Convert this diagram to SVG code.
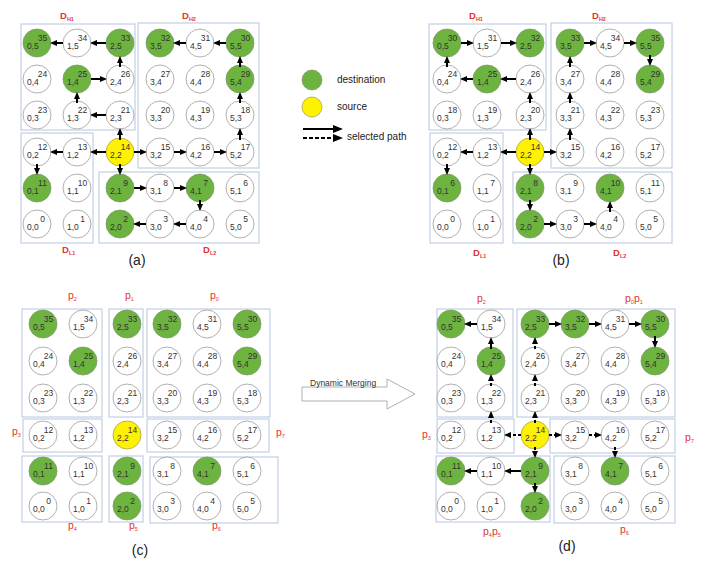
<svg xmlns="http://www.w3.org/2000/svg" width="706" height="571" viewBox="0 0 706 571">
<defs>
<style>
text{font-family:'Liberation Sans',Arial,sans-serif}
.n circle{fill:#fff;stroke:#9c9c9c;stroke-width:.8}
.n.g circle{fill:#6db33f;stroke:#7f9a6c}
.n.y circle{fill:#fff200;stroke:#aaa24e}
.n text{font-size:8.5px;fill:#333}
.n .k{text-anchor:middle}
.box{fill:none;stroke:#b4c6de;stroke-width:1}
.lb{fill:#e3342f;font-size:9.5px;font-weight:bold}
.pl{fill:#e3342f;font-size:10.5px}
.sb{font-size:5.5px}
.cap{font-size:14px;fill:#222;text-anchor:middle}
.lg{font-size:10px;fill:#222}
.ar{stroke:#000;stroke-width:2;fill:none;marker-end:url(#ah)}
.ds{stroke-dasharray:3 2}
.al{stroke:#000;stroke-width:2;fill:none;marker-end:url(#ahL)}
</style>
<marker id="ah" markerUnits="userSpaceOnUse" markerWidth="7" markerHeight="6" refX="1" refY="3" orient="auto"><path d="M0,0 L7,3 L0,6 z" fill="#000"/></marker>
<marker id="ahL" markerUnits="userSpaceOnUse" markerWidth="10" markerHeight="8" refX="1" refY="4" orient="auto"><path d="M0,0 L10,4 L0,8 z" fill="#000"/></marker>
</defs>
<rect width="706" height="571" fill="#fff"/>

<!-- ===== Panel (a) ===== -->
<g id="a-boxes">
<rect class="box" x="21" y="24" width="114" height="106"/>
<rect class="box" x="138" y="23" width="121" height="145"/>
<rect class="box" x="21" y="133" width="72" height="110"/>
<rect class="box" x="99" y="172" width="160" height="71"/>
<text class="lb" x="60" y="19">D<tspan class="sb" dy="2">H1</tspan></text>
<text class="lb" x="182" y="19">D<tspan class="sb" dy="2">H2</tspan></text>
<text class="lb" x="62" y="253">D<tspan class="sb" dy="2">L1</tspan></text>
<text class="lb" x="203" y="253">D<tspan class="sb" dy="2">L2</tspan></text>
<text class="cap" x="137" y="265">(a)</text>
</g>
<g id="a35" class="n g" transform="translate(37,43)"><circle r="14"/><text class="k" x="5.5" y="-2">35</text><text x="-10" y="6">0,5</text></g>
<g id="a34" class="n" transform="translate(77,43)"><circle r="14"/><text class="k" x="5.5" y="-2">34</text><text x="-10" y="6">1,5</text></g>
<g id="a33" class="n g" transform="translate(120,43)"><circle r="14"/><text class="k" x="5.5" y="-2">33</text><text x="-10" y="6">2,5</text></g>
<g id="a32" class="n g" transform="translate(160,43)"><circle r="14"/><text class="k" x="5.5" y="-2">32</text><text x="-10" y="6">3,5</text></g>
<g id="a31" class="n" transform="translate(200,43)"><circle r="14"/><text class="k" x="5.5" y="-2">31</text><text x="-10" y="6">4,5</text></g>
<g id="a30" class="n g" transform="translate(240,43)"><circle r="14"/><text class="k" x="5.5" y="-2">30</text><text x="-10" y="6">5,5</text></g>
<g id="a24" class="n" transform="translate(37,79)"><circle r="14"/><text class="k" x="5.5" y="-2">24</text><text x="-10" y="6">0,4</text></g>
<g id="a25" class="n g" transform="translate(77,79)"><circle r="14"/><text class="k" x="5.5" y="-2">25</text><text x="-10" y="6">1,4</text></g>
<g id="a26" class="n" transform="translate(120,79)"><circle r="14"/><text class="k" x="5.5" y="-2">26</text><text x="-10" y="6">2,4</text></g>
<g id="a27" class="n" transform="translate(160,79)"><circle r="14"/><text class="k" x="5.5" y="-2">27</text><text x="-10" y="6">3,4</text></g>
<g id="a28" class="n" transform="translate(200,79)"><circle r="14"/><text class="k" x="5.5" y="-2">28</text><text x="-10" y="6">4,4</text></g>
<g id="a29" class="n g" transform="translate(240,79)"><circle r="14"/><text class="k" x="5.5" y="-2">29</text><text x="-10" y="6">5,4</text></g>
<g id="a23" class="n" transform="translate(37,115)"><circle r="14"/><text class="k" x="5.5" y="-2">23</text><text x="-10" y="6">0,3</text></g>
<g id="a22" class="n" transform="translate(77,115)"><circle r="14"/><text class="k" x="5.5" y="-2">22</text><text x="-10" y="6">1,3</text></g>
<g id="a21" class="n" transform="translate(120,115)"><circle r="14"/><text class="k" x="5.5" y="-2">21</text><text x="-10" y="6">2,3</text></g>
<g id="a20" class="n" transform="translate(160,115)"><circle r="14"/><text class="k" x="5.5" y="-2">20</text><text x="-10" y="6">3,3</text></g>
<g id="a19" class="n" transform="translate(200,115)"><circle r="14"/><text class="k" x="5.5" y="-2">19</text><text x="-10" y="6">4,3</text></g>
<g id="a18" class="n" transform="translate(240,115)"><circle r="14"/><text class="k" x="5.5" y="-2">18</text><text x="-10" y="6">5,3</text></g>
<g id="a12" class="n" transform="translate(37,152)"><circle r="14"/><text class="k" x="5.5" y="-2">12</text><text x="-10" y="6">0,2</text></g>
<g id="a13" class="n" transform="translate(77,152)"><circle r="14"/><text class="k" x="5.5" y="-2">13</text><text x="-10" y="6">1,2</text></g>
<g id="a14" class="n y" transform="translate(120,152)"><circle r="14"/><text class="k" x="5.5" y="-2">14</text><text x="-10" y="6">2,2</text></g>
<g id="a15" class="n" transform="translate(160,152)"><circle r="14"/><text class="k" x="5.5" y="-2">15</text><text x="-10" y="6">3,2</text></g>
<g id="a16" class="n" transform="translate(200,152)"><circle r="14"/><text class="k" x="5.5" y="-2">16</text><text x="-10" y="6">4,2</text></g>
<g id="a17" class="n" transform="translate(240,152)"><circle r="14"/><text class="k" x="5.5" y="-2">17</text><text x="-10" y="6">5,2</text></g>
<g id="a11" class="n g" transform="translate(37,188)"><circle r="14"/><text class="k" x="5.5" y="-2">11</text><text x="-10" y="6">0,1</text></g>
<g id="a10" class="n" transform="translate(77,188)"><circle r="14"/><text class="k" x="5.5" y="-2">10</text><text x="-10" y="6">1,1</text></g>
<g id="a9" class="n g" transform="translate(120,188)"><circle r="14"/><text class="k" x="5.5" y="-2">9</text><text x="-10" y="6">2,1</text></g>
<g id="a8" class="n" transform="translate(160,188)"><circle r="14"/><text class="k" x="5.5" y="-2">8</text><text x="-10" y="6">3,1</text></g>
<g id="a7" class="n g" transform="translate(200,188)"><circle r="14"/><text class="k" x="5.5" y="-2">7</text><text x="-10" y="6">4,1</text></g>
<g id="a6" class="n" transform="translate(240,188)"><circle r="14"/><text class="k" x="5.5" y="-2">6</text><text x="-10" y="6">5,1</text></g>
<g id="a0" class="n" transform="translate(37,224)"><circle r="14"/><text class="k" x="5.5" y="-2">0</text><text x="-10" y="6">0,0</text></g>
<g id="a1" class="n" transform="translate(77,224)"><circle r="14"/><text class="k" x="5.5" y="-2">1</text><text x="-10" y="6">1,0</text></g>
<g id="a2" class="n g" transform="translate(120,224)"><circle r="14"/><text class="k" x="5.5" y="-2">2</text><text x="-10" y="6">2,0</text></g>
<g id="a3" class="n" transform="translate(160,224)"><circle r="14"/><text class="k" x="5.5" y="-2">3</text><text x="-10" y="6">3,0</text></g>
<g id="a4" class="n" transform="translate(200,224)"><circle r="14"/><text class="k" x="5.5" y="-2">4</text><text x="-10" y="6">4,0</text></g>
<g id="a5" class="n" transform="translate(240,224)"><circle r="14"/><text class="k" x="5.5" y="-2">5</text><text x="-10" y="6">5,0</text></g>

<!-- ===== Panel (b) ===== -->
<g id="b-boxes">
<rect class="box" x="429" y="24" width="117" height="106"/>
<rect class="box" x="551" y="23" width="121" height="145"/>
<rect class="box" x="430" y="133" width="73" height="110"/>
<rect class="box" x="513" y="172" width="159" height="71"/>
<text class="lb" x="469" y="19">D<tspan class="sb" dy="2">H1</tspan></text>
<text class="lb" x="592" y="19">D<tspan class="sb" dy="2">H2</tspan></text>
<text class="lb" x="473" y="256">D<tspan class="sb" dy="2">L1</tspan></text>
<text class="lb" x="613" y="256">D<tspan class="sb" dy="2">L2</tspan></text>
<text class="cap" x="561" y="265">(b)</text>
</g>
<g id="b30" class="n g" transform="translate(447,43)"><circle r="14"/><text class="k" x="5.5" y="-2">30</text><text x="-10" y="6">0,5</text></g>
<g id="b31" class="n" transform="translate(487,43)"><circle r="14"/><text class="k" x="5.5" y="-2">31</text><text x="-10" y="6">1,5</text></g>
<g id="b32" class="n g" transform="translate(530,43)"><circle r="14"/><text class="k" x="5.5" y="-2">32</text><text x="-10" y="6">2,5</text></g>
<g id="b33" class="n g" transform="translate(570,43)"><circle r="14"/><text class="k" x="5.5" y="-2">33</text><text x="-10" y="6">3,5</text></g>
<g id="b34" class="n" transform="translate(610,43)"><circle r="14"/><text class="k" x="5.5" y="-2">34</text><text x="-10" y="6">4,5</text></g>
<g id="b35" class="n g" transform="translate(650,43)"><circle r="14"/><text class="k" x="5.5" y="-2">35</text><text x="-10" y="6">5,5</text></g>
<g id="b24" class="n" transform="translate(447,79)"><circle r="14"/><text class="k" x="5.5" y="-2">24</text><text x="-10" y="6">0,4</text></g>
<g id="b25" class="n g" transform="translate(487,79)"><circle r="14"/><text class="k" x="5.5" y="-2">25</text><text x="-10" y="6">1,4</text></g>
<g id="b26" class="n" transform="translate(530,79)"><circle r="14"/><text class="k" x="5.5" y="-2">26</text><text x="-10" y="6">2,4</text></g>
<g id="b27" class="n" transform="translate(570,79)"><circle r="14"/><text class="k" x="5.5" y="-2">27</text><text x="-10" y="6">3,4</text></g>
<g id="b28" class="n" transform="translate(610,79)"><circle r="14"/><text class="k" x="5.5" y="-2">28</text><text x="-10" y="6">4,4</text></g>
<g id="b29" class="n g" transform="translate(650,79)"><circle r="14"/><text class="k" x="5.5" y="-2">29</text><text x="-10" y="6">5,4</text></g>
<g id="b18" class="n" transform="translate(447,115)"><circle r="14"/><text class="k" x="5.5" y="-2">18</text><text x="-10" y="6">0,3</text></g>
<g id="b19" class="n" transform="translate(487,115)"><circle r="14"/><text class="k" x="5.5" y="-2">19</text><text x="-10" y="6">1,3</text></g>
<g id="b20" class="n" transform="translate(530,115)"><circle r="14"/><text class="k" x="5.5" y="-2">20</text><text x="-10" y="6">2,3</text></g>
<g id="b21" class="n" transform="translate(570,115)"><circle r="14"/><text class="k" x="5.5" y="-2">21</text><text x="-10" y="6">3,3</text></g>
<g id="b22" class="n" transform="translate(610,115)"><circle r="14"/><text class="k" x="5.5" y="-2">22</text><text x="-10" y="6">4,3</text></g>
<g id="b23" class="n" transform="translate(650,115)"><circle r="14"/><text class="k" x="5.5" y="-2">23</text><text x="-10" y="6">5,3</text></g>
<g id="b12" class="n" transform="translate(447,152)"><circle r="14"/><text class="k" x="5.5" y="-2">12</text><text x="-10" y="6">0,2</text></g>
<g id="b13" class="n" transform="translate(487,152)"><circle r="14"/><text class="k" x="5.5" y="-2">13</text><text x="-10" y="6">1,2</text></g>
<g id="b14" class="n y" transform="translate(530,152)"><circle r="14"/><text class="k" x="5.5" y="-2">14</text><text x="-10" y="6">2,2</text></g>
<g id="b15" class="n" transform="translate(570,152)"><circle r="14"/><text class="k" x="5.5" y="-2">15</text><text x="-10" y="6">3,2</text></g>
<g id="b16" class="n" transform="translate(610,152)"><circle r="14"/><text class="k" x="5.5" y="-2">16</text><text x="-10" y="6">4,2</text></g>
<g id="b17" class="n" transform="translate(650,152)"><circle r="14"/><text class="k" x="5.5" y="-2">17</text><text x="-10" y="6">5,2</text></g>
<g id="b6" class="n g" transform="translate(447,188)"><circle r="14"/><text class="k" x="5.5" y="-2">6</text><text x="-10" y="6">0,1</text></g>
<g id="b7" class="n" transform="translate(487,188)"><circle r="14"/><text class="k" x="5.5" y="-2">7</text><text x="-10" y="6">1,1</text></g>
<g id="b8" class="n g" transform="translate(530,188)"><circle r="14"/><text class="k" x="5.5" y="-2">8</text><text x="-10" y="6">2,1</text></g>
<g id="b9" class="n" transform="translate(570,188)"><circle r="14"/><text class="k" x="5.5" y="-2">9</text><text x="-10" y="6">3,1</text></g>
<g id="b10" class="n g" transform="translate(610,188)"><circle r="14"/><text class="k" x="5.5" y="-2">10</text><text x="-10" y="6">4,1</text></g>
<g id="b11" class="n" transform="translate(650,188)"><circle r="14"/><text class="k" x="5.5" y="-2">11</text><text x="-10" y="6">5,1</text></g>
<g id="b0" class="n" transform="translate(447,224)"><circle r="14"/><text class="k" x="5.5" y="-2">0</text><text x="-10" y="6">0,0</text></g>
<g id="b1" class="n" transform="translate(487,224)"><circle r="14"/><text class="k" x="5.5" y="-2">1</text><text x="-10" y="6">1,0</text></g>
<g id="b2" class="n g" transform="translate(530,224)"><circle r="14"/><text class="k" x="5.5" y="-2">2</text><text x="-10" y="6">2,0</text></g>
<g id="b3" class="n" transform="translate(570,224)"><circle r="14"/><text class="k" x="5.5" y="-2">3</text><text x="-10" y="6">3,0</text></g>
<g id="b4" class="n" transform="translate(610,224)"><circle r="14"/><text class="k" x="5.5" y="-2">4</text><text x="-10" y="6">4,0</text></g>
<g id="b5" class="n" transform="translate(650,224)"><circle r="14"/><text class="k" x="5.5" y="-2">5</text><text x="-10" y="6">5,0</text></g>

<!-- ===== Legend ===== -->
<g id="legend">
<circle cx="312" cy="80" r="10" fill="#6db33f" stroke="#7f9a6c" stroke-width=".8"/>
<text class="lg" x="337" y="83">destination</text>
<circle cx="312" cy="107" r="10" fill="#fff200" stroke="#aaa24e" stroke-width=".8"/>
<text class="lg" x="337" y="110">source</text>
<line class="al" x1="303" y1="129" x2="334" y2="129"/>
<line class="al" x1="303" y1="138" x2="334" y2="138" stroke-dasharray="4 2"/>
<text class="lg" x="347" y="140">selected path</text>
</g>

<!-- ===== Panel (c) ===== -->
<g id="c-boxes">
<rect class="box" x="22" y="309" width="80" height="108"/>
<rect class="box" x="109" y="309" width="34" height="108"/>
<rect class="box" x="147" y="309" width="123" height="108"/>
<rect class="box" x="23" y="419" width="79" height="33"/>
<rect class="box" x="147" y="419" width="122" height="33"/>
<rect class="box" x="22" y="456" width="80" height="66"/>
<rect class="box" x="109" y="456" width="34" height="66"/>
<rect class="box" x="150" y="457" width="128" height="66"/>
<text class="pl" x="68" y="299">p<tspan class="sb" dy="2">2</tspan></text>
<text class="pl" x="125" y="299">p<tspan class="sb" dy="2">1</tspan></text>
<text class="pl" x="210" y="299">p<tspan class="sb" dy="2">0</tspan></text>
<text class="pl" x="12" y="435">p<tspan class="sb" dy="2">3</tspan></text>
<text class="pl" x="276" y="436">p<tspan class="sb" dy="2">7</tspan></text>
<text class="pl" x="68" y="529">p<tspan class="sb" dy="2">4</tspan></text>
<text class="pl" x="129" y="529">p<tspan class="sb" dy="2">5</tspan></text>
<text class="pl" x="212" y="529">p<tspan class="sb" dy="2">6</tspan></text>
<text class="cap" x="140" y="555">(c)</text>
</g>
<g id="c35" class="n g" transform="translate(43,324)"><circle r="14"/><text class="k" x="5.5" y="-2">35</text><text x="-10" y="6">0,5</text></g>
<g id="c34" class="n" transform="translate(83,324)"><circle r="14"/><text class="k" x="5.5" y="-2">34</text><text x="-10" y="6">1,5</text></g>
<g id="c33" class="n g" transform="translate(127,324)"><circle r="14"/><text class="k" x="5.5" y="-2">33</text><text x="-10" y="6">2,5</text></g>
<g id="c32" class="n g" transform="translate(167,324)"><circle r="14"/><text class="k" x="5.5" y="-2">32</text><text x="-10" y="6">3,5</text></g>
<g id="c31" class="n" transform="translate(207,324)"><circle r="14"/><text class="k" x="5.5" y="-2">31</text><text x="-10" y="6">4,5</text></g>
<g id="c30" class="n g" transform="translate(247,324)"><circle r="14"/><text class="k" x="5.5" y="-2">30</text><text x="-10" y="6">5,5</text></g>
<g id="c24" class="n" transform="translate(43,361)"><circle r="14"/><text class="k" x="5.5" y="-2">24</text><text x="-10" y="6">0,4</text></g>
<g id="c25" class="n g" transform="translate(83,361)"><circle r="14"/><text class="k" x="5.5" y="-2">25</text><text x="-10" y="6">1,4</text></g>
<g id="c26" class="n" transform="translate(127,361)"><circle r="14"/><text class="k" x="5.5" y="-2">26</text><text x="-10" y="6">2,4</text></g>
<g id="c27" class="n" transform="translate(167,361)"><circle r="14"/><text class="k" x="5.5" y="-2">27</text><text x="-10" y="6">3,4</text></g>
<g id="c28" class="n" transform="translate(207,361)"><circle r="14"/><text class="k" x="5.5" y="-2">28</text><text x="-10" y="6">4,4</text></g>
<g id="c29" class="n g" transform="translate(247,361)"><circle r="14"/><text class="k" x="5.5" y="-2">29</text><text x="-10" y="6">5,4</text></g>
<g id="c23" class="n" transform="translate(43,398)"><circle r="14"/><text class="k" x="5.5" y="-2">23</text><text x="-10" y="6">0,3</text></g>
<g id="c22" class="n" transform="translate(83,398)"><circle r="14"/><text class="k" x="5.5" y="-2">22</text><text x="-10" y="6">1,3</text></g>
<g id="c21" class="n" transform="translate(127,398)"><circle r="14"/><text class="k" x="5.5" y="-2">21</text><text x="-10" y="6">2,3</text></g>
<g id="c20" class="n" transform="translate(167,398)"><circle r="14"/><text class="k" x="5.5" y="-2">20</text><text x="-10" y="6">3,3</text></g>
<g id="c19" class="n" transform="translate(207,398)"><circle r="14"/><text class="k" x="5.5" y="-2">19</text><text x="-10" y="6">4,3</text></g>
<g id="c18" class="n" transform="translate(247,398)"><circle r="14"/><text class="k" x="5.5" y="-2">18</text><text x="-10" y="6">5,3</text></g>
<g id="c12" class="n" transform="translate(43,435)"><circle r="14"/><text class="k" x="5.5" y="-2">12</text><text x="-10" y="6">0,2</text></g>
<g id="c13" class="n" transform="translate(83,435)"><circle r="14"/><text class="k" x="5.5" y="-2">13</text><text x="-10" y="6">1,2</text></g>
<g id="c14" class="n y" transform="translate(127,435)"><circle r="14"/><text class="k" x="5.5" y="-2">14</text><text x="-10" y="6">2,2</text></g>
<g id="c15" class="n" transform="translate(167,435)"><circle r="14"/><text class="k" x="5.5" y="-2">15</text><text x="-10" y="6">3,2</text></g>
<g id="c16" class="n" transform="translate(207,435)"><circle r="14"/><text class="k" x="5.5" y="-2">16</text><text x="-10" y="6">4,2</text></g>
<g id="c17" class="n" transform="translate(247,435)"><circle r="14"/><text class="k" x="5.5" y="-2">17</text><text x="-10" y="6">5,2</text></g>
<g id="c11" class="n g" transform="translate(43,471)"><circle r="14"/><text class="k" x="5.5" y="-2">11</text><text x="-10" y="6">0,1</text></g>
<g id="c10" class="n" transform="translate(83,471)"><circle r="14"/><text class="k" x="5.5" y="-2">10</text><text x="-10" y="6">1,1</text></g>
<g id="c9" class="n g" transform="translate(127,471)"><circle r="14"/><text class="k" x="5.5" y="-2">9</text><text x="-10" y="6">2,1</text></g>
<g id="c8" class="n" transform="translate(167,471)"><circle r="14"/><text class="k" x="5.5" y="-2">8</text><text x="-10" y="6">3,1</text></g>
<g id="c7" class="n g" transform="translate(207,471)"><circle r="14"/><text class="k" x="5.5" y="-2">7</text><text x="-10" y="6">4,1</text></g>
<g id="c6" class="n" transform="translate(247,471)"><circle r="14"/><text class="k" x="5.5" y="-2">6</text><text x="-10" y="6">5,1</text></g>
<g id="c0" class="n" transform="translate(43,506)"><circle r="14"/><text class="k" x="5.5" y="-2">0</text><text x="-10" y="6">0,0</text></g>
<g id="c1" class="n" transform="translate(83,506)"><circle r="14"/><text class="k" x="5.5" y="-2">1</text><text x="-10" y="6">1,0</text></g>
<g id="c2" class="n g" transform="translate(127,506)"><circle r="14"/><text class="k" x="5.5" y="-2">2</text><text x="-10" y="6">2,0</text></g>
<g id="c3" class="n" transform="translate(167,506)"><circle r="14"/><text class="k" x="5.5" y="-2">3</text><text x="-10" y="6">3,0</text></g>
<g id="c4" class="n" transform="translate(207,506)"><circle r="14"/><text class="k" x="5.5" y="-2">4</text><text x="-10" y="6">4,0</text></g>
<g id="c5" class="n" transform="translate(247,506)"><circle r="14"/><text class="k" x="5.5" y="-2">5</text><text x="-10" y="6">5,0</text></g>

<!-- ===== Dynamic Merging arrow ===== -->
<g id="merge">
<polygon points="302,387 387,387 387,379 415,394 387,409 387,401 302,401" fill="#fff" stroke="#9c9c9c" stroke-width=".8"/>
<text x="310" y="386" font-size="8.5" fill="#333">Dynamic Merging</text>
</g>

<!-- ===== Panel (d) ===== -->
<g id="d-boxes">
<rect class="box" x="437" y="309" width="76" height="108"/>
<rect class="box" x="517" y="309" width="158" height="108"/>
<rect class="box" x="437" y="419" width="77" height="34"/>
<rect class="box" x="550" y="419" width="125" height="34"/>
<rect class="box" x="436" y="456" width="114" height="66"/>
<rect class="box" x="554" y="456" width="121" height="67"/>
<text class="pl" x="477" y="302">p<tspan class="sb" dy="2">2</tspan></text>
<text class="pl" x="625" y="302">p<tspan class="sb" dy="2">0</tspan><tspan dy="-2">p</tspan><tspan class="sb" dy="2">1</tspan></text>
<text class="pl" x="422" y="438">p<tspan class="sb" dy="2">3</tspan></text>
<text class="pl" x="685" y="441">p<tspan class="sb" dy="2">7</tspan></text>
<text class="pl" x="483" y="535">p<tspan class="sb" dy="2">4</tspan><tspan dy="-2">p</tspan><tspan class="sb" dy="2">5</tspan></text>
<text class="pl" x="620" y="533">p<tspan class="sb" dy="2">6</tspan></text>
<text class="cap" x="567" y="551">(d)</text>
</g>
<g id="d35" class="n g" transform="translate(451,324)"><circle r="14"/><text class="k" x="5.5" y="-2">35</text><text x="-10" y="6">0,5</text></g>
<g id="d34" class="n" transform="translate(491,324)"><circle r="14"/><text class="k" x="5.5" y="-2">34</text><text x="-10" y="6">1,5</text></g>
<g id="d33" class="n g" transform="translate(535,324)"><circle r="14"/><text class="k" x="5.5" y="-2">33</text><text x="-10" y="6">2,5</text></g>
<g id="d32" class="n g" transform="translate(575,324)"><circle r="14"/><text class="k" x="5.5" y="-2">32</text><text x="-10" y="6">3,5</text></g>
<g id="d31" class="n" transform="translate(615,324)"><circle r="14"/><text class="k" x="5.5" y="-2">31</text><text x="-10" y="6">4,5</text></g>
<g id="d30" class="n g" transform="translate(655,324)"><circle r="14"/><text class="k" x="5.5" y="-2">30</text><text x="-10" y="6">5,5</text></g>
<g id="d24" class="n" transform="translate(451,361)"><circle r="14"/><text class="k" x="5.5" y="-2">24</text><text x="-10" y="6">0,4</text></g>
<g id="d25" class="n g" transform="translate(491,361)"><circle r="14"/><text class="k" x="5.5" y="-2">25</text><text x="-10" y="6">1,4</text></g>
<g id="d26" class="n" transform="translate(535,361)"><circle r="14"/><text class="k" x="5.5" y="-2">26</text><text x="-10" y="6">2,4</text></g>
<g id="d27" class="n" transform="translate(575,361)"><circle r="14"/><text class="k" x="5.5" y="-2">27</text><text x="-10" y="6">3,4</text></g>
<g id="d28" class="n" transform="translate(615,361)"><circle r="14"/><text class="k" x="5.5" y="-2">28</text><text x="-10" y="6">4,4</text></g>
<g id="d29" class="n g" transform="translate(655,361)"><circle r="14"/><text class="k" x="5.5" y="-2">29</text><text x="-10" y="6">5,4</text></g>
<g id="d23" class="n" transform="translate(451,398)"><circle r="14"/><text class="k" x="5.5" y="-2">23</text><text x="-10" y="6">0,3</text></g>
<g id="d22" class="n" transform="translate(491,398)"><circle r="14"/><text class="k" x="5.5" y="-2">22</text><text x="-10" y="6">1,3</text></g>
<g id="d21" class="n" transform="translate(535,398)"><circle r="14"/><text class="k" x="5.5" y="-2">21</text><text x="-10" y="6">2,3</text></g>
<g id="d20" class="n" transform="translate(575,398)"><circle r="14"/><text class="k" x="5.5" y="-2">20</text><text x="-10" y="6">3,3</text></g>
<g id="d19" class="n" transform="translate(615,398)"><circle r="14"/><text class="k" x="5.5" y="-2">19</text><text x="-10" y="6">4,3</text></g>
<g id="d18" class="n" transform="translate(655,398)"><circle r="14"/><text class="k" x="5.5" y="-2">18</text><text x="-10" y="6">5,3</text></g>
<g id="d12" class="n" transform="translate(451,435)"><circle r="14"/><text class="k" x="5.5" y="-2">12</text><text x="-10" y="6">0,2</text></g>
<g id="d13" class="n" transform="translate(491,435)"><circle r="14"/><text class="k" x="5.5" y="-2">13</text><text x="-10" y="6">1,2</text></g>
<g id="d14" class="n y" transform="translate(535,435)"><circle r="14"/><text class="k" x="5.5" y="-2">14</text><text x="-10" y="6">2,2</text></g>
<g id="d15" class="n" transform="translate(575,435)"><circle r="14"/><text class="k" x="5.5" y="-2">15</text><text x="-10" y="6">3,2</text></g>
<g id="d16" class="n" transform="translate(615,435)"><circle r="14"/><text class="k" x="5.5" y="-2">16</text><text x="-10" y="6">4,2</text></g>
<g id="d17" class="n" transform="translate(655,435)"><circle r="14"/><text class="k" x="5.5" y="-2">17</text><text x="-10" y="6">5,2</text></g>
<g id="d11" class="n g" transform="translate(451,471)"><circle r="14"/><text class="k" x="5.5" y="-2">11</text><text x="-10" y="6">0,1</text></g>
<g id="d10" class="n" transform="translate(491,471)"><circle r="14"/><text class="k" x="5.5" y="-2">10</text><text x="-10" y="6">1,1</text></g>
<g id="d9" class="n g" transform="translate(535,471)"><circle r="14"/><text class="k" x="5.5" y="-2">9</text><text x="-10" y="6">2,1</text></g>
<g id="d8" class="n" transform="translate(575,471)"><circle r="14"/><text class="k" x="5.5" y="-2">8</text><text x="-10" y="6">3,1</text></g>
<g id="d7" class="n g" transform="translate(615,471)"><circle r="14"/><text class="k" x="5.5" y="-2">7</text><text x="-10" y="6">4,1</text></g>
<g id="d6" class="n" transform="translate(655,471)"><circle r="14"/><text class="k" x="5.5" y="-2">6</text><text x="-10" y="6">5,1</text></g>
<g id="d0" class="n" transform="translate(451,506)"><circle r="14"/><text class="k" x="5.5" y="-2">0</text><text x="-10" y="6">0,0</text></g>
<g id="d1" class="n" transform="translate(491,506)"><circle r="14"/><text class="k" x="5.5" y="-2">1</text><text x="-10" y="6">1,0</text></g>
<g id="d2" class="n g" transform="translate(535,506)"><circle r="14"/><text class="k" x="5.5" y="-2">2</text><text x="-10" y="6">2,0</text></g>
<g id="d3" class="n" transform="translate(575,506)"><circle r="14"/><text class="k" x="5.5" y="-2">3</text><text x="-10" y="6">3,0</text></g>
<g id="d4" class="n" transform="translate(615,506)"><circle r="14"/><text class="k" x="5.5" y="-2">4</text><text x="-10" y="6">4,0</text></g>
<g id="d5" class="n" transform="translate(655,506)"><circle r="14"/><text class="k" x="5.5" y="-2">5</text><text x="-10" y="6">5,0</text></g>

<!-- ===== Connectors ===== -->
<g id="connectors">
<!-- (a) -->
<line class="ar" x1="120" y1="140" x2="120" y2="134"/>
<line class="ar" x1="106" y1="115" x2="96" y2="115"/>
<line class="ar" x1="77" y1="103" x2="77" y2="98"/>
<line class="ar" x1="91" y1="79" x2="101" y2="79"/>
<line class="ar" x1="120" y1="67" x2="120" y2="62"/>
<line class="ar" x1="106" y1="43" x2="96" y2="43"/>
<line class="ar" x1="63" y1="43" x2="56" y2="43"/>
<line class="ar" x1="106" y1="152" x2="96" y2="152"/>
<line class="ar" x1="63" y1="152" x2="56" y2="152"/>
<line class="ar" x1="37" y1="164" x2="37" y2="169"/>
<line class="ar" x1="120" y1="164" x2="120" y2="169"/>
<line class="ar" x1="134" y1="188" x2="141" y2="188"/>
<line class="ar" x1="174" y1="188" x2="181" y2="188"/>
<line class="ar" x1="200" y1="200" x2="200" y2="205"/>
<line class="ar" x1="186" y1="224" x2="179" y2="224"/>
<line class="ar" x1="146" y1="224" x2="139" y2="224"/>
<line class="ar" x1="134" y1="152" x2="141" y2="152"/>
<line class="ar" x1="174" y1="152" x2="181" y2="152"/>
<line class="ar" x1="214" y1="152" x2="221" y2="152"/>
<line class="ar" x1="240" y1="140" x2="240" y2="134"/>
<line class="ar" x1="240" y1="103" x2="240" y2="98"/>
<line class="ar" x1="240" y1="67" x2="240" y2="62"/>
<line class="ar" x1="226" y1="43" x2="219" y2="43"/>
<line class="ar" x1="186" y1="43" x2="179" y2="43"/>
<!-- (b) -->
<line class="ar" x1="530" y1="140" x2="530" y2="134"/>
<line class="ar" x1="530" y1="103" x2="530" y2="98"/>
<line class="ar" x1="516" y1="79" x2="506" y2="79"/>
<line class="ar" x1="473" y1="79" x2="466" y2="79"/>
<line class="ar" x1="447" y1="67" x2="447" y2="62"/>
<line class="ar" x1="461" y1="43" x2="468" y2="43"/>
<line class="ar" x1="501" y1="43" x2="511" y2="43"/>
<line class="ar" x1="544" y1="152" x2="551" y2="152"/>
<line class="ar" x1="570" y1="140" x2="570" y2="134"/>
<line class="ar" x1="570" y1="103" x2="570" y2="98"/>
<line class="ar" x1="570" y1="67" x2="570" y2="62"/>
<line class="ar" x1="584" y1="43" x2="591" y2="43"/>
<line class="ar" x1="624" y1="43" x2="631" y2="43"/>
<line class="ar" x1="650" y1="55" x2="650" y2="60"/>
<line class="ar" x1="516" y1="152" x2="506" y2="152"/>
<line class="ar" x1="473" y1="152" x2="466" y2="152"/>
<line class="ar" x1="447" y1="164" x2="447" y2="169"/>
<line class="ar" x1="530" y1="164" x2="530" y2="169"/>
<line class="ar" x1="530" y1="200" x2="530" y2="205"/>
<line class="ar" x1="544" y1="224" x2="551" y2="224"/>
<line class="ar" x1="584" y1="224" x2="591" y2="224"/>
<line class="ar" x1="610" y1="212" x2="610" y2="207"/>
<!-- (d) -->
<line class="ar ds" x1="521" y1="435" x2="510" y2="435"/>
<line class="ar ds" x1="491" y1="423" x2="491" y2="417"/>
<line class="ar ds" x1="491" y1="386" x2="491" y2="380"/>
<line class="ar" x1="491" y1="349" x2="491" y2="343"/>
<line class="ar" x1="477" y1="324" x2="470" y2="324"/>
<line class="ar ds" x1="535" y1="423" x2="535" y2="417"/>
<line class="ar ds" x1="535" y1="386" x2="535" y2="380"/>
<line class="ar ds" x1="535" y1="349" x2="535" y2="343"/>
<line class="ar" x1="549" y1="324" x2="556" y2="324"/>
<line class="ar" x1="589" y1="324" x2="596" y2="324"/>
<line class="ar" x1="629" y1="324" x2="636" y2="324"/>
<line class="ar" x1="655" y1="336" x2="655" y2="342"/>
<line class="ar ds" x1="549" y1="435" x2="556" y2="435"/>
<line class="ar ds" x1="589" y1="435" x2="596" y2="435"/>
<line class="ar ds" x1="615" y1="447" x2="615" y2="452"/>
<line class="ar ds" x1="535" y1="447" x2="535" y2="452"/>
<line class="ar" x1="521" y1="471" x2="510" y2="471"/>
<line class="ar" x1="477" y1="471" x2="470" y2="471"/>
<line class="ar" x1="535" y1="483" x2="535" y2="487"/>
</g>
</svg>
